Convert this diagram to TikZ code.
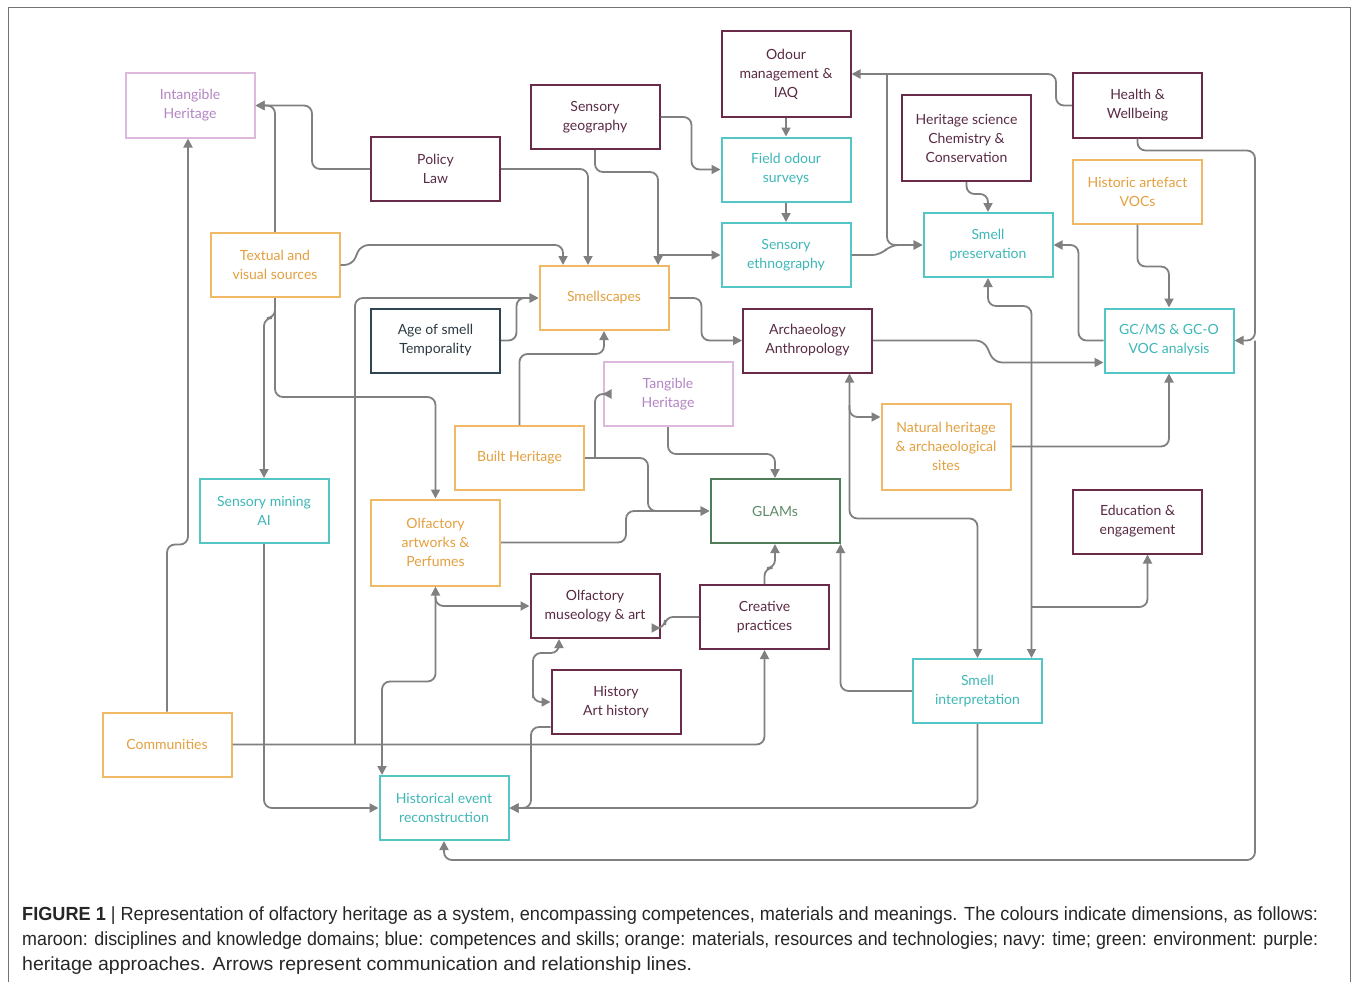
\documentclass[tikz,border=0pt]{standalone}
\usepackage{fontspec}
\setmainfont{Lato}
\newfontfamily\capfont{Liberation Sans}
\usetikzlibrary{arrows.meta}
\definecolor{maroonc}{HTML}{6A2A4A}
\definecolor{maroont}{HTML}{5A2A44}
\definecolor{tealc}{HTML}{55C6C6}
\definecolor{tealt}{HTML}{3FB7B7}
\definecolor{orangec}{HTML}{F1B865}
\definecolor{oranget}{HTML}{E3A040}
\definecolor{purplec}{HTML}{DDB9DD}
\definecolor{purplet}{HTML}{B385C4}
\definecolor{greenc}{HTML}{4F7D5A}
\definecolor{greent}{HTML}{5E8C68}
\definecolor{navyc}{HTML}{2F4552}
\definecolor{navyt}{HTML}{2B3A42}
\definecolor{linec}{HTML}{808080}
\newsavebox\capbox
\newcommand\fitline[2]{\sbox\capbox{#2}\pgfmathsetmacro\capsc{#1/(\the\wd\capbox)}\scalebox{\capsc}[1]{\usebox\capbox}}
\tikzset{
  box/.style={draw, line width=2pt, minimum width=129pt, minimum height=64pt,
    align=center, inner sep=2pt, fill=white,
    font=\fontsize{14}{19}\selectfont},
  tall/.style={minimum height=86pt},
  mar/.style={box, draw=maroonc, text=maroont},
  tea/.style={box, draw=tealc, text=tealt},
  ora/.style={box, draw=orangec, text=oranget},
  pur/.style={box, draw=purplec, text=purplet},
  gre/.style={box, draw=greenc, text=greent},
  nav/.style={box, draw=navyc, text=navyt},
  con/.style={draw=linec, line width=1.8pt, rounded corners=8pt,
    -{Triangle[length=9pt,width=9pt]}},
  con2/.style={draw=linec, line width=1.8pt, rounded corners=8pt,
    {Triangle[length=9pt,width=9pt]}-{Triangle[length=9pt,width=9pt]}},
  captext/.style={anchor=base west, inner sep=0pt, text=black!85,
    font=\capfont\fontsize{19}{22}\selectfont}
}
\begin{document}
\begin{tikzpicture}[x=1pt,y=-1pt]
\useasboundingbox (0,0) rectangle (1358,982);
\draw[black!55, line width=1pt] (8,982) -- (8,8) -- (1350,8) -- (1350,982);

% nodes
\node[pur] (intang) at (190,105.5) {Intangible\\Heritage};
\node[mar] (pol) at (435.5,169) {Policy\\Law};
\node[mar] (sgeo) at (595,117) {Sensory\\geography};
\node[mar,tall] (odour) at (786,74) {Odour\\management \&\\IAQ};
\node[tea] (field) at (786,169.5) {Field odour\\surveys};
\node[tea] (seth) at (786,255) {Sensory\\ethnography};
\node[mar,tall] (hsci) at (966.5,138) {Heritage science\\Chemistry \&\\Conservation};
\node[mar] (health) at (1137.5,105.5) {Health \&\\Wellbeing};
\node[ora] (hvoc) at (1137.5,191.5) {Historic artefact\\VOCs};
\node[tea] (spres) at (988,245) {Smell\\preservation};
\node[tea] (gcms) at (1169,340.5) {GC/MS \& GC-O\\VOC analysis};
\node[ora] (text) at (275,265) {Textual and\\visual sources};
\node[ora] (smell) at (604,298) {Smellscapes};
\node[nav] (age) at (435.5,340.5) {Age of smell\\Temporality};
\node[mar] (arch) at (807.5,340.5) {Archaeology\\Anthropology};
\node[pur] (tang) at (668,394) {Tangible\\Heritage};
\node[ora] (built) at (519.5,458) {Built Heritage};
\node[ora,tall] (nat) at (946,446.5) {Natural heritage\\\& archaeological\\sites};
\node[tea] (smine) at (264,511) {Sensory mining\\AI};
\node[ora,tall] (olfart) at (435.5,542.5) {Olfactory\\artworks \&\\Perfumes};
\node[gre] (glams) at (775,511) {GLAMs};
\node[mar] (edu) at (1137.5,521.5) {Education \&\\engagement};
\node[mar] (mus) at (595,606) {Olfactory\\museology \& art};
\node[mar] (crea) at (764.5,617) {Creative\\practices};
\node[mar] (hist) at (616,702) {History\\Art history};
\node[tea] (sint) at (977.5,691) {Smell\\interpretation};
\node[ora] (comm) at (167,744.5) {Communities};
\node[tea] (hev) at (444,808) {Historical event\\reconstruction};

% junction coordinates
\coordinate (j1) at (658,255);
\coordinate (j2) at (887,74);
\coordinate (j3) at (1255,340.5);
\coordinate (j4) at (1031.5,607);
\coordinate (j6) at (849.5,405);
\coordinate (j7) at (355,744.5);
\coordinate (j8) at (435.5,597);
\coordinate (j9) at (595,458);

% connectors
\draw[con] (pol.west) -- ++(-58,0) |- (intang.east);
\draw[con] (text.north) |- (intang.east);
\draw[con] (text.south) -- (275,397) -| (olfart.north);
\draw[con] (text.south) -- ++(0,20) -| (smine.north);
\draw[con] (text.east) -- ++(12,0) -- ++(8,-20) -| ([xshift=-41pt]smell.north);
\draw[con] (pol.east) -| ([xshift=-16pt]smell.north);
\draw[con] (sgeo.south) -- ++(0,22) -| ([xshift=54pt]smell.north);
\draw[con] (j1) -- (seth.west);
\draw[con] (sgeo.east) -- ++(31,0) |- (field.west);
\draw[con] (odour.south) -- (field.north);
\draw[con] (field.south) -- (seth.north);
\draw[con] (seth.east) -- ++(29,0) -- ++(10,-10) -- (spres.west);
\draw[con] (health.west) -- ++(-16,0) |- (odour.east);
\draw[con] (j2) |- (spres.west);
\draw[con] (hsci.south) -- ++(0,12) -| (spres.north);
\draw[con] (health.south) -- ++(0,12) -| (j3) -- (gcms.east);
\draw[con] (j3) -- (1255,860) -| (hev.south);
\draw[con] (hvoc.south) -- ++(0,42) -| (gcms.north);
\draw[con] (gcms.west) -- ++(-25,0) |- (spres.east);
\draw[con] (arch.east) -- ++(111,0) -- ++(10,22) -- ([yshift=-22pt]gcms.west);
\draw[con2] (spres.south) -- ++(0,28) -| ([xshift=54pt]sint.north);
\draw[con] (j4) -| ([xshift=10pt]edu.south);
\draw[con] (nat.east) -| (gcms.south);
\draw[con2] ([xshift=42pt]arch.south) -- ++(0,145) -| (sint.north);
\draw[con] (j6) |- ([yshift=29.5pt]nat.west);
\draw[con] (smell.east) -- ++(32,0) |- (arch.west);
\draw[con] (age.east) -| ([xshift=-22pt]smell.west) -- (smell.west);
\draw[con] (j7) |- (smell.west);
\draw[con] (comm.east) -| (crea.south);
\draw[con] (comm.north) -- ++(0,-167) -| ([xshift=-2pt]intang.south);
\draw[con] (smine.south) |- (hev.west);
\draw[con2] (olfart.south) -- ++(0,95) -| ([xshift=-62pt]hev.north);
\draw[con] (j8) |- (mus.west);
\draw[con] (olfart.east) -- ++(125,0) |- (glams.west);
\draw[con] (built.east) -- ++(63,0) |- (glams.west);
\draw[con] (j9) |- (tang.west);
\draw[con] (built.north) -- ++(0,-71) -| (smell.south);
\draw[con] (tang.south) -- ++(0,27) -| (glams.north);
\draw[con] (crea.north) -- ++(0,-16) -| (glams.south);
\draw[con] (sint.west) -| (glams.south east);
\draw[con] (crea.west) -- ++(-34,0) |- ([yshift=-22pt]mus.east);
\draw[con2] ([xshift=-36pt]mus.south) -- ++(0,14) -| (533,690) |- (hist.west);
\draw[con] ([yshift=-25pt]hist.west) -| (531,790) |- (hev.east);
\draw[con] (sint.south) |- (hev.east);

% caption
\node[captext] (cap1) at (22,920) {\fitline{1296}{\textbf{FIGURE 1} | Representation of olfactory heritage as a system, encompassing competences, materials and meanings. The colours indicate dimensions, as follows:}};
\node[captext] (cap2) at (22,945) {\fitline{1296}{maroon: disciplines and knowledge domains; blue: competences and skills; orange: materials, resources and technologies; navy: time; green: environment: purple:}};
\node[captext] (cap3) at (22,970) {\fitline{670}{heritage approaches. Arrows represent communication and relationship lines.}};
\end{tikzpicture}
\end{document}
